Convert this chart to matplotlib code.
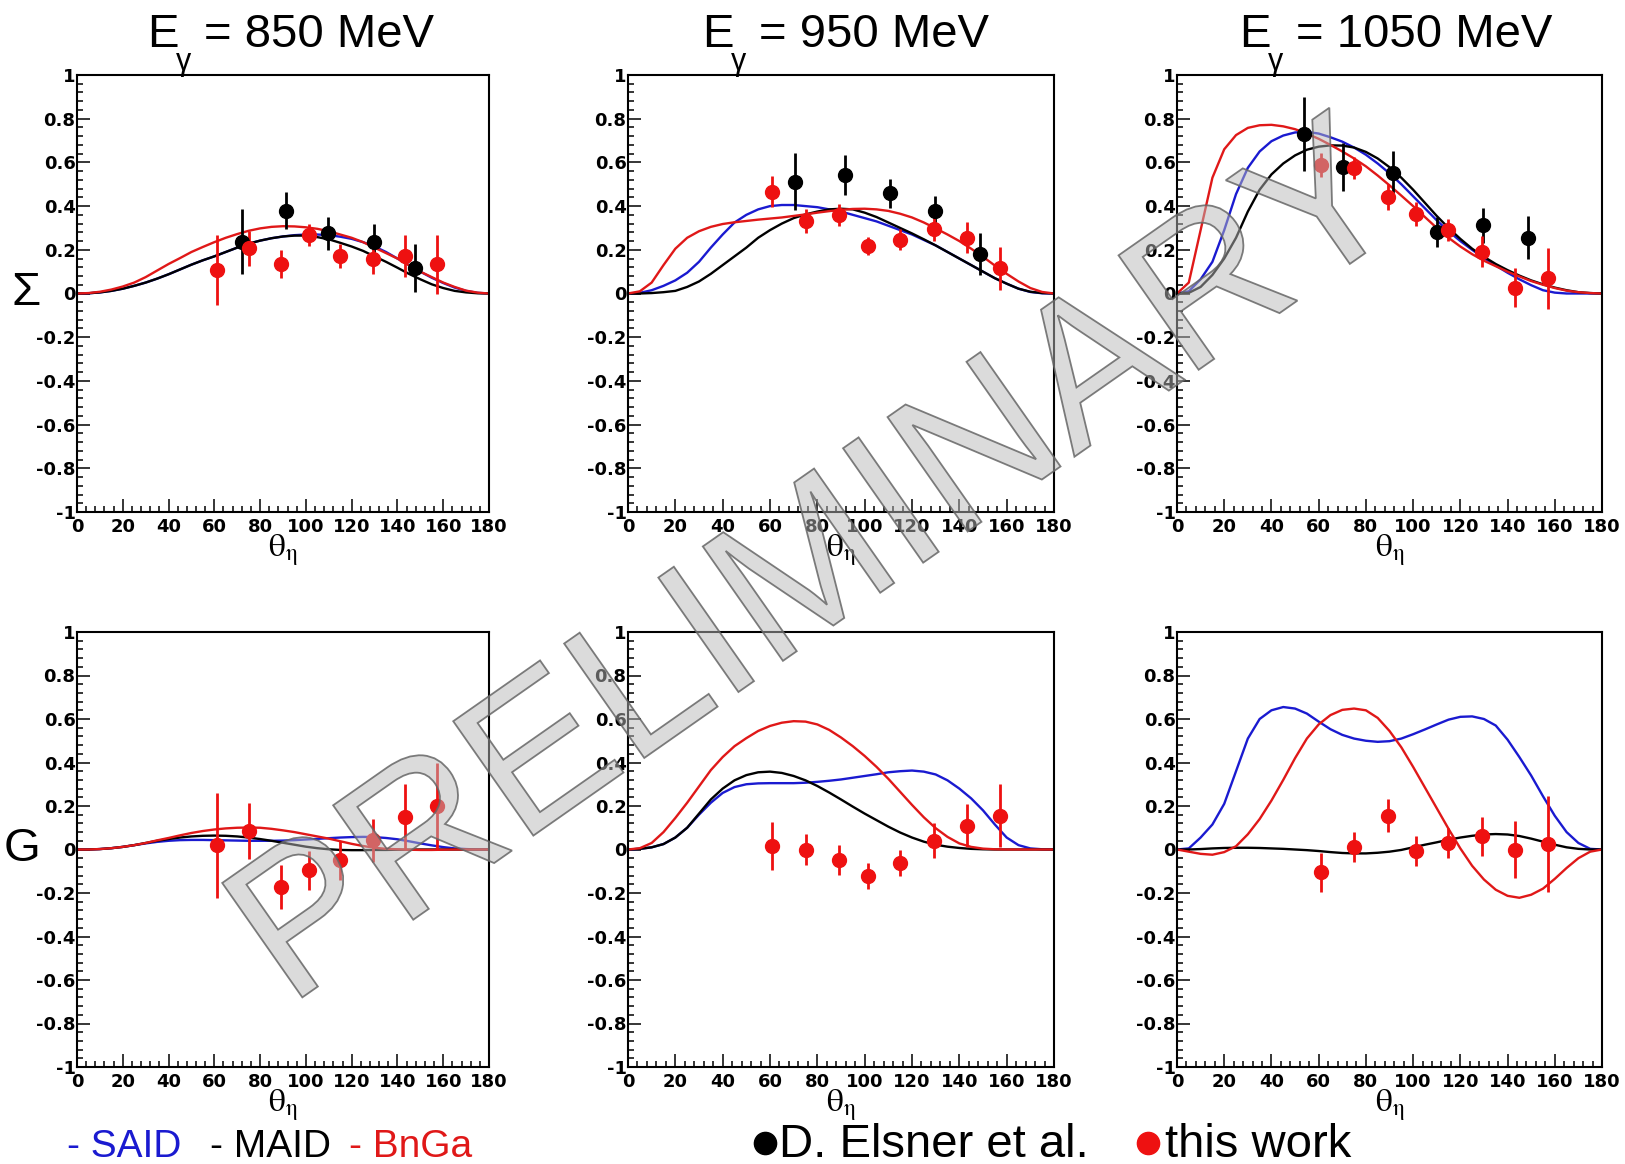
import numpy as np
import matplotlib.pyplot as plt
from matplotlib.lines import Line2D
from matplotlib.textpath import TextPath
from matplotlib.font_manager import FontProperties
from matplotlib.patches import PathPatch
from matplotlib.transforms import Affine2D

plt.rcParams['font.family'] = ['Liberation Sans', 'DejaVu Sans']
plt.rcParams['axes.unicode_minus'] = False

# angle grid of the model curves (deg)
theta = np.arange(0, 181, 5)

# ---- Sigma, model curves ----
said_s850 = [0, 0.001, 0.005, 0.012, 0.022, 0.035, 0.05, 0.068, 0.088, 0.11, 0.132, 0.152, 0.17, 0.19, 0.21,
             0.228, 0.242, 0.253, 0.261, 0.267, 0.27, 0.27, 0.267, 0.26, 0.25, 0.235, 0.215, 0.19, 0.16, 0.13,
             0.1, 0.072, 0.048, 0.027, 0.012, 0.003, 0]
maid_s850 = [0, 0.001, 0.005, 0.012, 0.022, 0.035, 0.05, 0.068, 0.088, 0.11, 0.132, 0.152, 0.17, 0.19, 0.21,
             0.228, 0.242, 0.253, 0.261, 0.265, 0.265, 0.258, 0.248, 0.232, 0.215, 0.195, 0.17, 0.145, 0.118, 0.09,
             0.065, 0.042, 0.025, 0.012, 0.005, 0.001, 0]
bnga_s850 = [0, 0.002, 0.008, 0.018, 0.032, 0.05, 0.075, 0.105, 0.135, 0.162, 0.19, 0.213, 0.235, 0.255, 0.272,
             0.287, 0.298, 0.305, 0.308, 0.307, 0.303, 0.296, 0.285, 0.27, 0.255, 0.235, 0.21, 0.185, 0.16, 0.13,
             0.1, 0.075, 0.05, 0.03, 0.013, 0.004, 0]

said_s950 = [0, 0.003, 0.015, 0.035, 0.06, 0.095, 0.145, 0.21, 0.27, 0.325, 0.36, 0.385, 0.4, 0.405, 0.405,
             0.4, 0.395, 0.385, 0.375, 0.36, 0.345, 0.33, 0.31, 0.29, 0.27, 0.245, 0.22, 0.19, 0.16, 0.13,
             0.1, 0.07, 0.045, 0.022, 0.007, 0.001, 0]
maid_s950 = [0, 0, 0.002, 0.006, 0.012, 0.03, 0.055, 0.09, 0.13, 0.17, 0.21, 0.255, 0.29, 0.32, 0.345,
             0.362, 0.375, 0.385, 0.388, 0.385, 0.37, 0.35, 0.325, 0.3, 0.275, 0.248, 0.22, 0.19, 0.16, 0.13,
             0.1, 0.07, 0.045, 0.022, 0.008, 0.002, 0]
bnga_s950 = [0, 0.01, 0.05, 0.13, 0.205, 0.255, 0.285, 0.305, 0.318, 0.326, 0.332, 0.338, 0.343, 0.348, 0.355,
             0.362, 0.37, 0.377, 0.383, 0.387, 0.388, 0.385, 0.378, 0.365, 0.348, 0.325, 0.298, 0.27, 0.24, 0.205,
             0.168, 0.128, 0.09, 0.055, 0.025, 0.007, 0]

said_s1050 = [0, 0.01, 0.065, 0.145, 0.29, 0.455, 0.575, 0.65, 0.697, 0.723, 0.737, 0.74, 0.732, 0.715, 0.695,
              0.668, 0.635, 0.595, 0.55, 0.5, 0.445, 0.39, 0.335, 0.285, 0.24, 0.2, 0.162, 0.128, 0.095, 0.065,
              0.038, 0.015, 0.004, 0, 0, 0, 0]
maid_s1050 = [0, 0.003, 0.03, 0.085, 0.16, 0.255, 0.375, 0.475, 0.545, 0.595, 0.632, 0.658, 0.672, 0.678, 0.677,
              0.668, 0.648, 0.618, 0.578, 0.53, 0.475, 0.415, 0.355, 0.3, 0.25, 0.205, 0.168, 0.135, 0.107, 0.082,
              0.06, 0.042, 0.027, 0.015, 0.006, 0.002, 0]
bnga_s1050 = [0, 0.05, 0.29, 0.53, 0.66, 0.725, 0.758, 0.77, 0.772, 0.765, 0.752, 0.732, 0.708, 0.68, 0.65,
              0.618, 0.582, 0.54, 0.495, 0.448, 0.4, 0.35, 0.3, 0.255, 0.215, 0.18, 0.15, 0.125, 0.1, 0.078,
              0.057, 0.04, 0.025, 0.013, 0.006, 0.002, 0]

# ---- G, model curves ----
said_g850 = [0, 0, 0.002, 0.006, 0.012, 0.02, 0.028, 0.035, 0.04, 0.043, 0.044, 0.044, 0.043, 0.042, 0.041,
             0.04, 0.04, 0.04, 0.041, 0.043, 0.046, 0.049, 0.052, 0.055, 0.057, 0.058, 0.057, 0.053, 0.047, 0.038,
             0.028, 0.019, 0.011, 0.005, 0.002, 0, 0]
maid_g850 = [0, 0, 0.002, 0.006, 0.012, 0.02, 0.03, 0.04, 0.048, 0.055, 0.06, 0.063, 0.064, 0.063, 0.06,
             0.055, 0.048, 0.04, 0.031, 0.022, 0.013, 0.006, 0.001, -0.002, -0.003, -0.003, -0.002, -0.002, -0.001, -0.001,
             0, 0, 0, 0, 0, 0, 0]
bnga_g850 = [0, 0, 0.002, 0.006, 0.012, 0.02, 0.03, 0.042, 0.053, 0.065, 0.076, 0.085, 0.092, 0.097, 0.1,
             0.101, 0.1, 0.095, 0.088, 0.08, 0.07, 0.06, 0.05, 0.038, 0.026, 0.016, 0.008, 0.003, 0.001, -0.001,
             -0.002, -0.002, -0.001, 0, 0, 0, 0]

said_g950 = [0, 0.003, 0.01, 0.025, 0.055, 0.1, 0.16, 0.215, 0.26, 0.287, 0.3, 0.304, 0.305, 0.305, 0.305,
             0.307, 0.311, 0.316, 0.322, 0.33, 0.338, 0.346, 0.355, 0.36, 0.363, 0.358, 0.345, 0.318, 0.28, 0.235,
             0.18, 0.115, 0.055, 0.02, 0.005, 0.001, 0]
maid_g950 = [0, 0.003, 0.01, 0.025, 0.055, 0.1, 0.165, 0.23, 0.28, 0.318, 0.342, 0.355, 0.358, 0.352, 0.338,
             0.318, 0.292, 0.262, 0.23, 0.197, 0.165, 0.135, 0.105, 0.078, 0.055, 0.036, 0.022, 0.013, 0.007, 0.003,
             0.001, 0, 0, 0, 0, 0, 0]
bnga_g950 = [0, 0.006, 0.03, 0.08, 0.145, 0.215, 0.29, 0.365, 0.425, 0.475, 0.512, 0.545, 0.568, 0.583, 0.59,
             0.588, 0.575, 0.55, 0.515, 0.475, 0.43, 0.38, 0.325, 0.265, 0.205, 0.148, 0.098, 0.058, 0.028, 0.012,
             0.004, 0.001, 0, 0, 0, 0, 0]

said_g1050 = [0, 0.005, 0.055, 0.115, 0.21, 0.36, 0.51, 0.6, 0.64, 0.655, 0.648, 0.625, 0.588, 0.553, 0.527,
              0.51, 0.5, 0.495, 0.498, 0.51, 0.53, 0.552, 0.575, 0.597, 0.61, 0.612, 0.6, 0.57, 0.505, 0.425,
              0.34, 0.245, 0.155, 0.08, 0.03, 0.003, 0]
maid_g1050 = [0, 0, 0.002, 0.005, 0.007, 0.008, 0.008, 0.007, 0.005, 0.003, 0, -0.003, -0.007, -0.012, -0.016,
              -0.018, -0.018, -0.015, -0.01, -0.002, 0.01, 0.022, 0.033, 0.045, 0.055, 0.063, 0.069, 0.071, 0.069, 0.062,
              0.05, 0.036, 0.022, 0.01, 0.003, 0, 0]
bnga_g1050 = [0, -0.01, -0.02, -0.024, -0.012, 0.015, 0.07, 0.14, 0.225, 0.32, 0.42, 0.51, 0.575, 0.618, 0.642,
              0.648, 0.64, 0.605, 0.545, 0.47, 0.38, 0.285, 0.19, 0.095, 0.005, -0.075, -0.138, -0.185, -0.213, -0.222,
              -0.208, -0.18, -0.135, -0.085, -0.04, -0.01, 0]

# ---- data points: D. Elsner et al. (Sigma only) ----
elsner_x850 = [72.3, 91.5, 109.5, 129.9, 147.6]
elsner_s850 = [0.237, 0.379, 0.275, 0.237, 0.115]
elsner_e850 = [0.15, 0.085, 0.075, 0.08, 0.11]
elsner_x950 = [70.6, 91.6, 110.9, 129.8, 148.7]
elsner_s950 = [0.511, 0.542, 0.458, 0.377, 0.18]
elsner_e950 = [0.13, 0.09, 0.065, 0.07, 0.095]
elsner_x1050 = [53.7, 70.4, 91.6, 110.3, 129.8, 148.5]
elsner_s1050 = [0.73, 0.58, 0.553, 0.282, 0.313, 0.256]
elsner_e1050 = [0.17, 0.11, 0.1, 0.07, 0.08, 0.1]

# ---- data points: this work ----
work_x = [61.0, 75.1, 89.2, 101.3, 114.9, 129.2, 143.2, 157.2]
work_s850 = [0.107, 0.206, 0.134, 0.267, 0.171, 0.16, 0.171, 0.134]
work_se850 = [0.16, 0.08, 0.065, 0.05, 0.055, 0.07, 0.095, 0.135]
work_s950 = [0.466, 0.333, 0.359, 0.217, 0.247, 0.293, 0.256, 0.115]
work_se950 = [0.07, 0.055, 0.05, 0.04, 0.05, 0.055, 0.07, 0.1]
work_s1050 = [0.588, 0.573, 0.44, 0.366, 0.29, 0.191, 0.026, 0.069]
work_se1050 = [0.055, 0.05, 0.06, 0.055, 0.05, 0.07, 0.09, 0.14]
work_g850 = [0.019, 0.085, -0.172, -0.096, -0.05, 0.042, 0.149, 0.199]
work_ge850 = [0.24, 0.13, 0.1, 0.09, 0.09, 0.1, 0.15, 0.2]
work_g950 = [0.018, 0.0, -0.048, -0.123, -0.063, 0.041, 0.11, 0.156]
work_ge950 = [0.11, 0.07, 0.07, 0.06, 0.06, 0.08, 0.1, 0.145]
work_g1050 = [-0.104, 0.011, 0.156, -0.008, 0.031, 0.061, 0.0, 0.026]
work_ge1050 = [0.09, 0.07, 0.075, 0.07, 0.07, 0.09, 0.13, 0.22]

energies = [850, 950, 1050]
xtick_labels = ['0', '20', '40', '60', '80', '100', '120', '140', '160', '180']
ytick_labels = ['-1', '-0.8', '-0.6', '-0.4', '-0.2', '0', '0.2', '0.4', '0.6', '0.8', '1']

C_SAID = '#1a1ad0'
C_MAID = 'black'
C_BNGA = '#e01818'
C_WORK = '#ee1111'

W, H = 1625, 1164
fig = plt.figure(figsize=(W / 100, H / 100), dpi=100)

# panel frames in pixels
col_l = [77, 628, 1177]
col_r = [489, 1054, 1602]
row_t = [75, 632]
row_b = [512, 1067]

curves = [
    [(said_s850, maid_s850, bnga_s850), (said_s950, maid_s950, bnga_s950), (said_s1050, maid_s1050, bnga_s1050)],
    [(said_g850, maid_g850, bnga_g850), (said_g950, maid_g950, bnga_g950), (said_g1050, maid_g1050, bnga_g1050)],
]
elsner = [(elsner_x850, elsner_s850, elsner_e850), (elsner_x950, elsner_s950, elsner_e950),
          (elsner_x1050, elsner_s1050, elsner_e1050)]
work = [[(work_s850, work_se850), (work_s950, work_se950), (work_s1050, work_se1050)],
        [(work_g850, work_ge850), (work_g950, work_ge950), (work_g1050, work_ge1050)]]

for r in range(2):
    for c in range(3):
        ax = fig.add_axes([col_l[c] / W, 1 - row_b[r] / H,
                           (col_r[c] - col_l[c]) / W, (row_b[r] - row_t[r]) / H])
        said, maid, bnga = curves[r][c]
        ax.plot(theta, said, color=C_SAID, lw=1.7)
        ax.plot(theta, maid, color=C_MAID, lw=1.7)
        ax.plot(theta, bnga, color=C_BNGA, lw=1.7)
        if r == 0:
            ex, ey, ee = elsner[c]
            ax.errorbar(ex, ey, yerr=ee, fmt='o', color='black', ms=10, elinewidth=2, capsize=0)
        wy, we = work[r][c]
        ax.errorbar(work_x, wy, yerr=we, fmt='o', color=C_WORK, ms=10, elinewidth=2, capsize=0)

        ax.set_xlim(0, 180)
        ax.set_ylim(-1, 1)
        ax.set_xticks(np.arange(0, 181, 20))
        ax.set_xticks(np.arange(0, 181, 4), minor=True)
        ax.set_yticks(np.linspace(-1, 1, 11))
        ax.set_yticks(np.linspace(-1, 1, 51), minor=True)
        ax.set_xticklabels(xtick_labels, fontsize=13, fontweight='bold', family='DejaVu Sans')
        ax.set_yticklabels(ytick_labels, fontsize=13, fontweight='bold', family='DejaVu Sans')
        ax.tick_params(which='both', direction='in', top=False, right=False, width=1.1)
        ax.tick_params(which='major', length=9.5)
        ax.tick_params(which='minor', length=4.5)
        ax.tick_params(axis='y', pad=1)
        ax.tick_params(axis='x', pad=4)
        for sp in ax.spines.values():
            sp.set_linewidth(1.5)
        ax.set_xlabel(r'$\mathrm{\theta}_{\mathrm{\eta}}$', fontsize=24, math_fontfamily='stix', labelpad=-2)

# column titles (E, subscript gamma set low as in the original)
title_x = [147, 702, 1239]
for c, e in enumerate(energies):
    x0 = title_x[c]
    fig.text(x0 / W, 1 - 47 / H, 'E', fontsize=34, ha='left', va='baseline')
    fig.text((x0 + 29) / W, 1 - 70 / H, 'γ', fontsize=22, ha='left', va='baseline')
    fig.text((x0 + 57) / W, 1 - 47 / H, f'= {e} MeV', fontsize=34, ha='left', va='baseline')

# row labels
fig.text(26 / W, 1 - 293 / H, 'Σ', fontsize=34, ha='center', va='center')
fig.text(22 / W, 1 - 849 / H, 'G', fontsize=34, ha='center', va='center')

# legend line
fig.text(67 / W, 1 - 1157 / H, '- SAID', fontsize=28, color=C_SAID, ha='left', va='baseline')
fig.text(210 / W, 1 - 1157 / H, '- MAID', fontsize=28, color='black', ha='left', va='baseline')
fig.text(349 / W, 1 - 1157 / H, '- BnGa', fontsize=28, color=C_BNGA, ha='left', va='baseline')
fig.add_artist(Line2D([765 / W], [1 - 1143 / H], marker='o', ms=16, color='black',
                      transform=fig.transFigure))
fig.text(779 / W, 1 - 1157 / H, 'D. Elsner et al.', fontsize=34, ha='left', va='baseline')
fig.add_artist(Line2D([1148 / W], [1 - 1143 / H], marker='o', ms=16, color=C_WORK,
                      transform=fig.transFigure))
fig.text(1165 / W, 1 - 1157 / H, 'this work', fontsize=34, ha='left', va='baseline')

# watermark: outlined, half transparent text path laid over everything
wm = TextPath((0, 0), 'PRELIMINARY', size=203, prop=FontProperties(family='Liberation Sans'))
wm_tr = (Affine2D().translate(-26, 0).rotate_deg(35).translate(310, H - 992)
         .scale(1 / W, 1 / H) + fig.transFigure)
fig.add_artist(PathPatch(wm, facecolor=(0.72, 0.72, 0.72, 0.5), edgecolor=(0.40, 0.40, 0.40, 0.85),
                         lw=1.3, transform=wm_tr, zorder=10))

fig.savefig('out.png', dpi=100)
